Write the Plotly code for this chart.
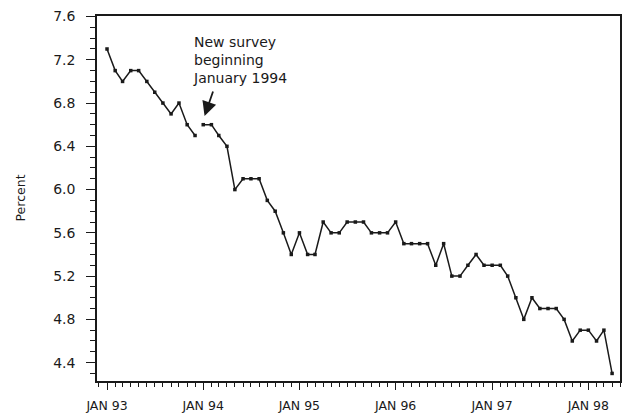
import pandas as pd
import plotly.graph_objects as go

# Monthly rate, old survey (1993) and new survey (Jan 1994 onward)
dates_old = pd.date_range("1993-01-01", periods=12, freq="MS")
rate_old = [7.3, 7.1, 7.0, 7.1, 7.1, 7.0, 6.9, 6.8, 6.7, 6.8, 6.6, 6.5]

dates_new = pd.date_range("1994-01-01", periods=52, freq="MS")
rate_new = [
    6.6, 6.6, 6.5, 6.4, 6.0, 6.1, 6.1, 6.1, 5.9, 5.8, 5.6, 5.4,   # 1994
    5.6, 5.4, 5.4, 5.7, 5.6, 5.6, 5.7, 5.7, 5.7, 5.6, 5.6, 5.6,   # 1995
    5.7, 5.5, 5.5, 5.5, 5.5, 5.3, 5.5, 5.2, 5.2, 5.3, 5.4, 5.3,   # 1996
    5.3, 5.3, 5.2, 5.0, 4.8, 5.0, 4.9, 4.9, 4.9, 4.8, 4.6, 4.7,   # 1997
    4.7, 4.6, 4.7, 4.3,                                           # 1998
]

xtick_vals = ["1993-01-01", "1994-01-01", "1995-01-01", "1996-01-01", "1997-01-01", "1998-01-01"]
xtick_text = ["JAN 93", "JAN 94", "JAN 95", "JAN 96", "JAN 97", "JAN 98"]
ytick_vals = [4.4, 4.8, 5.2, 5.6, 6.0, 6.4, 6.8, 7.2, 7.6]

INK = "#1a1a1a"
FONT = "DejaVu Sans"

fig = go.Figure()
for xs, ys in ((dates_old, rate_old), (dates_new, rate_new)):
    fig.add_trace(go.Scatter(
        x=xs, y=ys, mode="lines+markers",
        line=dict(color=INK, width=1.5),
        marker=dict(symbol="square", size=3.5, color=INK),
        showlegend=False, hoverinfo="skip", cliponaxis=False,
    ))

fig.update_layout(
    width=624, height=415,
    margin=dict(l=97, r=2, t=16, b=31),
    paper_bgcolor="white", plot_bgcolor="white",
    font=dict(family=FONT, color=INK),
)

fig.update_xaxes(
    type="date",
    range=["1992-11-24", "1998-05-01"],
    tickmode="array", tickvals=xtick_vals, ticktext=xtick_text,
    ticks="outside", ticklen=7, tickwidth=1.2, tickcolor=INK,
    minor=dict(ticks="outside", ticklen=4, tickwidth=1, tickcolor=INK,
               dtick="M1", tick0="1993-01-01", showgrid=False),
    showline=True, linecolor=INK, linewidth=1.5, mirror=True,
    showgrid=False, zeroline=False,
    tickfont=dict(family=FONT, size=12.5, color=INK),
    ticklabelstandoff=5,
)

fig.update_yaxes(
    range=[4.23, 7.605],
    tickmode="array", tickvals=ytick_vals, tickformat=".1f",
    ticks="outside", ticklen=9, tickwidth=1.2, tickcolor=INK,
    minor=dict(ticks="outside", ticklen=5, tickwidth=1, tickcolor=INK,
               dtick=0.1, tick0=4.4, showgrid=False),
    showline=True, linecolor=INK, linewidth=1.5, mirror=True,
    showgrid=False, zeroline=False,
    tickfont=dict(family=FONT, size=14, color=INK),
    ticklabelstandoff=8,
)

# Y-axis title
fig.add_annotation(
    text="Percent", textangle=-90, showarrow=False,
    xref="paper", yref="paper", x=0, y=0.5, xanchor="center", yanchor="middle",
    xshift=-77, font=dict(family=FONT, size=12.5, color=INK),
)

# Callout text
fig.add_annotation(
    text="New survey<br>beginning<br>January 1994", showarrow=False,
    xref="paper", yref="paper", x=(191 - 97) / 525, y=(384 - 60.5) / 368,
    xanchor="left", yanchor="middle", align="left",
    font=dict(family=FONT, size=14, color=INK),
)

# Callout arrow pointing at Jan 1994
fig.add_annotation(
    x="1994-01-06", y=6.68, xref="x", yref="y", text="",
    showarrow=True, ax=9, ay=-26, arrowhead=2, arrowsize=1.6,
    arrowwidth=1.8, arrowcolor=INK,
)

fig.write_html(
    "out.html",
    config={"displayModeBar": False},
    post_script="document.body.style.margin='0';document.body.style.overflow='hidden';",
)
